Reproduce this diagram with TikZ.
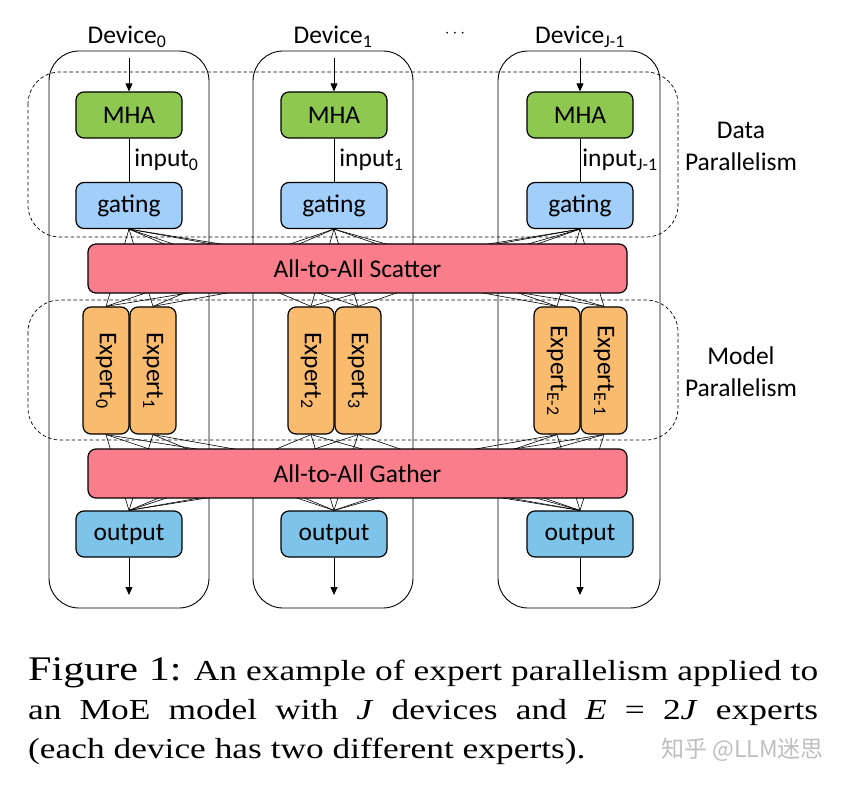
\documentclass[tikz,border=0pt]{standalone}
\usepackage{fontspec}
\usepackage{graphicx}
\setmainfont{Liberation Serif}
\newfontfamily\diagfont{Carlito}
\newfontfamily\cjkfont{Noto Sans CJK SC}
\usetikzlibrary{arrows.meta, positioning, backgrounds}
\definecolor{mhagreen}{RGB}{142,200,80}
\definecolor{gateblue}{RGB}{162,206,250}
\definecolor{outblue}{RGB}{125,196,232}
\definecolor{exporange}{RGB}{249,188,110}
\definecolor{commpink}{RGB}{250,125,140}
\definecolor{markgray}{RGB}{190,190,190}
\tikzset{
  unit/.style={rectangle, draw=black, rounded corners=8pt, line width=1.2pt,
    minimum width=106pt, minimum height=46pt, inner sep=0pt,
    font=\diagfont\fontsize{25.5}{30}\selectfont},
  mhabox/.style={unit, fill=mhagreen},
  gatebox/.style={unit, fill=gateblue},
  outbox/.style={unit, fill=outblue},
  expbox/.style={rectangle, draw=black, rounded corners=8pt, line width=1.2pt,
    fill=exporange, minimum width=46pt, minimum height=127pt, inner sep=0pt,
    font=\diagfont\fontsize{25.5}{30}\selectfont},
  commbox/.style={rectangle, draw=black, rounded corners=8pt, line width=1.2pt,
    fill=commpink, minimum width=539pt, minimum height=49pt, inner sep=0pt,
    font=\diagfont\fontsize{25.5}{30}\selectfont},
  devbox/.style={draw=black, line width=0.9pt, rounded corners=30pt},
  groupbox/.style={draw=black, dash pattern=on 3.5pt off 2.5pt, line width=0.7pt, rounded corners=32pt},
  fanline/.style={line width=0.6pt},
  flow/.style={-{Triangle[length=8pt,width=7pt]}, line width=0.8pt},
  lbl/.style={font=\diagfont\fontsize{25.5}{30}\selectfont, inner sep=0pt},
  inlabel/.style={lbl, anchor=west, xshift=5pt}
}

\begin{document}
\begin{tikzpicture}[x=1pt, y=-1pt]
  \useasboundingbox (0,0) rectangle (848,786);

  % -- device headers
  \node[lbl] (dev0) at (127,37) {Device\textsubscript{0}};
  \node[lbl] (dev1) at (333,37) {Device\textsubscript{1}};
  \node[lbl, font=\fontsize{17}{20}\selectfont] (dots) at (455,34) {$\cdots$};
  \node[lbl] (dev2) at (580,37) {Device\textsubscript{J-1}};

  % -- per device: MHA, gating, output
  \node[mhabox] (mha0) at (129,115) {MHA};
  \node[mhabox] (mha1) at (334,115) {MHA};
  \node[mhabox] (mha2) at (580,115) {MHA};
  \node[gatebox] (gate0) at (129,205.5) {gating};
  \node[gatebox] (gate1) at (334,205.5) {gating};
  \node[gatebox] (gate2) at (580,205.5) {gating};
  \node[outbox] (out0) at (129,534) {output};
  \node[outbox] (out1) at (334,534) {output};
  \node[outbox] (out2) at (580,534) {output};

  % -- communication
  \node[commbox] (scatter) at (357.5,268.5) {All-to-All Scatter};
  \node[commbox] (gather) at (357.5,473.5) {All-to-All Gather};

  % -- experts, two per device
  \node[expbox] (e0) at (106,370.5) {\rotatebox{-90}{Expert\textsubscript{0}}};
  \node[expbox] (e1) at (153,370.5) {\rotatebox{-90}{Expert\textsubscript{1}}};
  \node[expbox] (e2) at (311,370.5) {\rotatebox{-90}{Expert\textsubscript{2}}};
  \node[expbox] (e3) at (358,370.5) {\rotatebox{-90}{Expert\textsubscript{3}}};
  \node[expbox] (e4) at (557,370.5) {\rotatebox{-90}{Expert\textsubscript{E-2}}};
  \node[expbox] (e5) at (604,370.5) {\rotatebox{-90}{Expert\textsubscript{E-1}}};

  % -- in / out arrows
  \coordinate (src0) at (129,58);
  \coordinate (src1) at (334,58);
  \coordinate (src2) at (580,58);
  \coordinate (dst0) at (129,595);
  \coordinate (dst1) at (334,595);
  \coordinate (dst2) at (580,595);
  \draw[flow] (src0) -- (mha0);
  \draw[flow] (src1) -- (mha1);
  \draw[flow] (src2) -- (mha2);
  \draw[flow] (out0) -- (dst0);
  \draw[flow] (out1) -- (dst1);
  \draw[flow] (out2) -- (dst2);

  % -- MHA to gating
  \draw[line width=0.8pt] (mha0) -- (gate0) node[inlabel, midway] (inp0) {input\textsubscript{0}};
  \draw[line width=0.8pt] (mha1) -- (gate1) node[inlabel, midway] (inp1) {input\textsubscript{1}};
  \draw[line width=0.8pt] (mha2) -- (gate2) node[inlabel, midway, xshift=-3pt] (inp2) {input\textsubscript{J-1}};

  % -- group labels
  \node[lbl, align=center] (dplbl) at (741,146) {Data\\[2pt]Parallelism};
  \node[lbl, align=center] (mplbl) at (741,372) {Model\\[2pt]Parallelism};

  % -- behind the boxes: devices, groups, all-to-all wiring
  \begin{scope}[on background layer]
    \draw[devbox] (49,51) rectangle (209,608);
    \draw[devbox] (253,51) rectangle (413,608);
    \draw[devbox] (498,51) rectangle (660,608);
    \draw[groupbox] (28,72) rectangle (678,237);
    \draw[groupbox] (28,300) rectangle (678,440);
    \foreach \g in {gate0,gate1,gate2}
      \foreach \e in {e0,e1,e2,e3,e4,e5}
        \draw[fanline] (\g.south) -- (\e.north);
    \foreach \e in {e0,e1,e2,e3,e4,e5}
      \foreach \o in {out0,out1,out2}
        \draw[fanline] (\e.south) -- (\o.north);
  \end{scope}

  % -- caption
  \node[anchor=base west, inner sep=0pt] (caption) at (28,680)
    {\scalebox{1.22}[1]{\parbox[t]{647.5pt}{\fontsize{29}{39}\selectfont
      {\fontsize{34.5}{39}\selectfont Figure 1:} An example of expert parallelism applied to\linebreak
      an MoE model with \textit{J} devices and \textit{E} = 2\textit{J} experts\linebreak
      (each device has two different experts).}}};
  \node[anchor=base east, inner sep=0pt, text=markgray,
    font=\cjkfont\fontsize{23}{26}\selectfont] (mark) at (824,757) {知乎 @LLM迷思};
\end{tikzpicture}
\end{document}
